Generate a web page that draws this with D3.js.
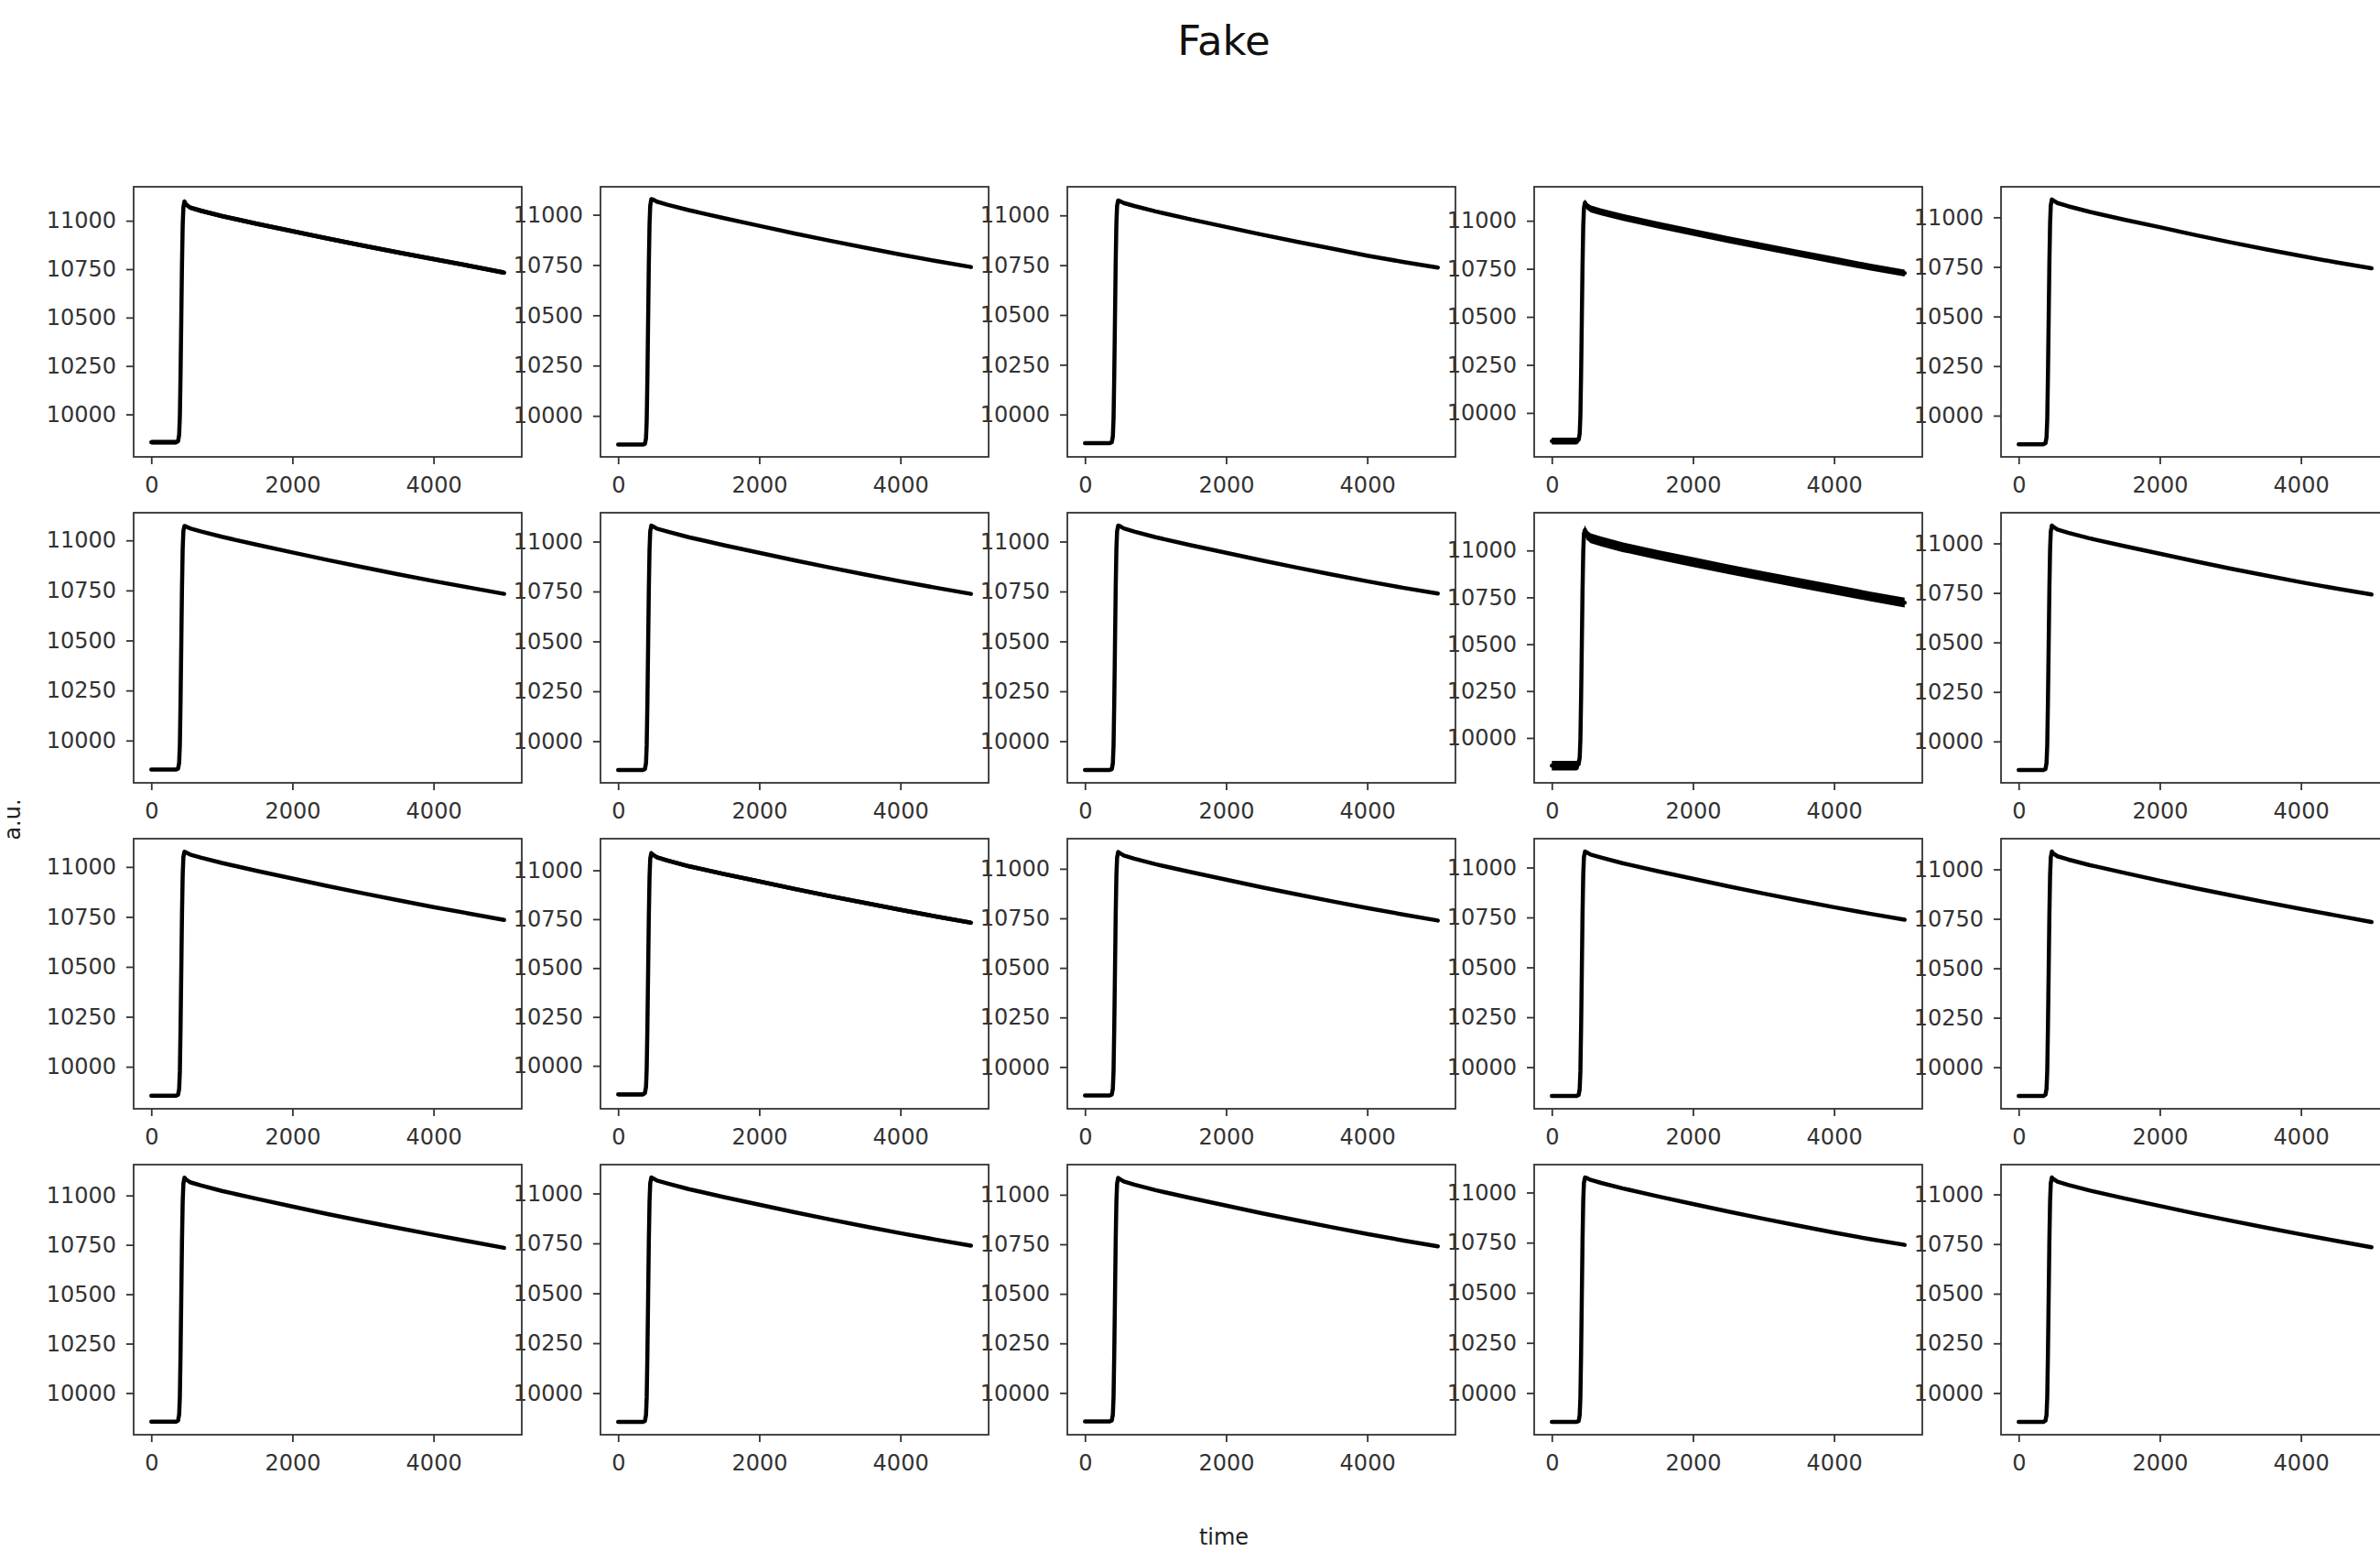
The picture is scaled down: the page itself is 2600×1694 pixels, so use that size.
<!DOCTYPE html>
<html>
<head>
<meta charset="utf-8">
<script src="https://cdn.jsdelivr.net/npm/d3@7"></script>
<style>
  html, body { margin: 0; padding: 0; background: #fff; overflow: hidden; }
  svg { display: block; font-family: "DejaVu Sans", sans-serif; }
</style>
</head>
<body>
<svg id="fig" width="2600" height="1694"></svg>
<script>
// Sample times shared by every trace
const timeSteps = [0, 350, 380, 395, 405, 415, 425, 435, 445, 455, 470, 490,
                   550, 700, 1000, 1500, 2000, 2500, 3000, 3500, 4000, 4500, 5000];

// One trace per panel, row by row (4 rows x 5 columns)
const traces = [
  [9856,9856,9862,9895,9990,10210,10490,10770,10975,11070,11100,11085,11068,11052,11024,10984,10946,10908,10872,10836,10802,10768,10732],
  [9857,9857,9860,9888,9975,10195,10475,10755,10955,11045,11078,11076,11065,11050,11023,10983,10945,10907,10871,10836,10802,10770,10740],
  [9856,9856,9861,9890,9980,10200,10480,10760,10960,11048,11075,11072,11062,11047,11020,10980,10942,10904,10868,10833,10798,10767,10738],
  [9853,9853,9860,9892,9985,10205,10485,10765,10970,11065,11095,11078,11062,11046,11018,10978,10940,10902,10866,10830,10795,10760,10728],
  [9856,9856,9861,9891,9982,10205,10485,10765,10968,11060,11090,11085,11072,11056,11028,10988,10950,10911,10874,10839,10805,10773,10743],

  [9855,9855,9860,9889,9978,10198,10478,10758,10958,11048,11072,11070,11060,11045,11018,10978,10940,10902,10866,10831,10797,10765,10733],
  [9856,9856,9861,9890,9980,10200,10480,10760,10962,11052,11080,11077,11065,11050,11022,10982,10944,10906,10870,10835,10801,10769,10738],
  [9856,9856,9860,9889,9979,10200,10480,10760,10962,11052,11080,11078,11066,11050,11022,10982,10944,10906,10870,10835,10801,10769,10740],
  [9852,9852,9860,9895,9990,10215,10495,10780,10990,11090,11110,11085,11065,11048,11018,10977,10938,10900,10863,10827,10792,10756,10722],
  [9856,9856,9861,9891,9982,10205,10485,10765,10968,11060,11090,11084,11070,11054,11026,10986,10948,10910,10873,10838,10804,10772,10742],

  [9855,9855,9860,9889,9978,10198,10478,10758,10958,11050,11076,11073,11062,11047,11020,10980,10942,10904,10868,10833,10799,10767,10735],
  [9854,9854,9861,9892,9984,10205,10485,10765,10968,11060,11088,11080,11066,11050,11021,10981,10943,10905,10868,10833,10798,10764,10732],
  [9856,9856,9861,9890,9981,10202,10482,10762,10965,11056,11085,11080,11067,11051,11023,10983,10945,10907,10871,10836,10802,10770,10739],
  [9856,9856,9861,9890,9980,10200,10480,10760,10962,11052,11080,11077,11065,11050,11022,10982,10944,10906,10870,10835,10801,10769,10739],
  [9855,9855,9861,9891,9982,10205,10485,10765,10968,11060,11090,11080,11066,11050,11022,10982,10943,10905,10869,10834,10800,10767,10734],

  [9855,9855,9861,9891,9982,10205,10485,10765,10968,11060,11090,11082,11067,11051,11023,10983,10944,10906,10870,10835,10801,10768,10735],
  [9856,9856,9861,9890,9980,10200,10480,10760,10962,11052,11080,11077,11065,11050,11022,10982,10944,10906,10870,10835,10801,10769,10739],
  [9856,9856,9861,9890,9981,10202,10482,10762,10965,11056,11085,11080,11067,11051,11023,10983,10945,10907,10871,10836,10802,10770,10740],
  [9856,9856,9860,9889,9979,10198,10478,10758,10958,11048,11075,11073,11063,11048,11021,10981,10943,10905,10869,10834,10800,10768,10739],
  [9855,9855,9861,9890,9981,10202,10482,10762,10965,11056,11085,11078,11064,11048,11020,10980,10942,10904,10868,10833,10799,10766,10734]
];

// Half-width of the measurement noise around each trace (a.u.)
const noiseSpread = [12, 0, 7, 18, 2,
                     5, 3, 3, 26, 3,
                     4, 11, 5, 3, 3,
                     4, 3, 5, 3, 3];

const xTicks = [0, 2000, 4000];
const yTicks = [10000, 10250, 10500, 10750, 11000];

const figTitle = "Fake";
const xLabel = "time";
const yLabel = "a.u.";

// ---- layout ----
const nCols = 5;
const panelW = 424, panelH = 295;
const colStep = 510, rowStep = 356;
const left0 = 146, top0 = 204;
const inkText = "#333", inkFrame = "#333";
const fontPx = 24;

const svg = d3.select("#fig");

// padded extent like an autoscaled axis (5% each side)
function padded(lo, hi) {
  const m = (hi - lo) * 0.05;
  return [lo - m, hi + m];
}

const xDomain = padded(d3.min(timeSteps), d3.max(timeSteps));

traces.forEach((vals, i) => {
  const r = Math.floor(i / nCols), c = i % nCols;
  const s = noiseSpread[i];
  const g = svg.append("g")
    .attr("transform", `translate(${left0 + c * colStep},${top0 + r * rowStep})`);

  const x = d3.scaleLinear().domain(xDomain).range([0, panelW]);
  const y = d3.scaleLinear()
    .domain(padded(d3.min(vals) - s, d3.max(vals) + s))
    .range([panelH, 0]);

  const pts = timeSteps.map((t, k) => ({ t, v: vals[k] }));

  if (s > 0) {
    g.append("path")
      .datum(pts)
      .attr("fill", "#000")
      .attr("d", d3.area()
        .x(d => x(d.t))
        .y0(d => y(d.v - s))
        .y1(d => y(d.v + s)));
  }

  g.append("path")
    .datum(pts)
    .attr("fill", "none")
    .attr("stroke", "#000")
    .attr("stroke-width", 4.5)
    .attr("stroke-linejoin", "round")
    .attr("stroke-linecap", "round")
    .attr("d", d3.line().x(d => x(d.t)).y(d => y(d.v)));

  // axes
  const ax = g.append("g")
    .attr("transform", `translate(0,${panelH})`)
    .call(d3.axisBottom(x).tickValues(xTicks).tickFormat(d3.format("d"))
      .tickSize(8).tickSizeOuter(0).tickPadding(14));
  const ay = g.append("g")
    .call(d3.axisLeft(y).tickValues(yTicks).tickFormat(d3.format("d"))
      .tickSize(8).tickSizeOuter(0).tickPadding(11));

  [ax, ay].forEach(a => {
    a.select(".domain").remove();
    a.selectAll(".tick line").attr("stroke", inkFrame).attr("stroke-width", 1.8);
    a.selectAll(".tick text")
      .attr("fill", inkText)
      .style("font-size", fontPx + "px")
      .style("font-family", '"DejaVu Sans", sans-serif');
  });

  // frame
  g.append("rect")
    .attr("x", 0).attr("y", 0)
    .attr("width", panelW).attr("height", panelH)
    .attr("fill", "none")
    .attr("stroke", inkFrame)
    .attr("stroke-width", 1.8);
});

// figure labels
svg.append("text")
  .attr("x", 1337).attr("y", 60)
  .attr("text-anchor", "middle")
  .attr("fill", "#111")
  .style("font-size", "45px")
  .text(figTitle);

svg.append("text")
  .attr("x", 1337).attr("y", 1687)
  .attr("text-anchor", "middle")
  .attr("fill", "#222")
  .style("font-size", fontPx + "px")
  .text(xLabel);

svg.append("text")
  .attr("transform", "translate(22,895) rotate(-90)")
  .attr("text-anchor", "middle")
  .attr("fill", "#222")
  .style("font-size", fontPx + "px")
  .text(yLabel);
</script>
</body>
</html>
